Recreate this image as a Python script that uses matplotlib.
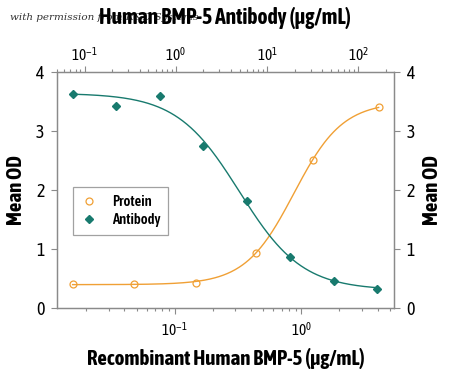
import numpy as np
import matplotlib
matplotlib.use('Agg')
import matplotlib.pyplot as plt
from matplotlib.lines import Line2D

FONT = ['Asap Condensed', 'DejaVu Sans']
plt.rcParams['font.family'] = FONT
plt.rcParams['mathtext.fontset'] = 'custom'
plt.rcParams['mathtext.rm'] = 'Asap Condensed'
plt.rcParams['mathtext.it'] = 'Asap Condensed'

# data
protein_conc = [0.0156, 0.048, 0.148, 0.44, 1.24, 4.08]      # ug/mL, bottom axis
protein_od = [0.41, 0.41, 0.43, 0.94, 2.51, 3.41]
antibody_conc = [0.074, 0.222, 0.667, 2.0, 6.0, 18.0, 54.0, 162.0]   # ug/mL, top axis
antibody_od = [3.63, 3.43, 3.60, 2.75, 1.81, 0.87, 0.46, 0.32]

ORANGE = '#f0a035'
TEAL = '#187a6e'
GRAY = '#8a8a8a'


def fit_4pl(x, y):
    # grid over ec50 / hill, bottom & top by linear least squares
    lx = np.log10(x)
    y = np.asarray(y)
    best = None
    for c in np.linspace(lx.min(), lx.max(), 160):
        for h in np.linspace(0.3, 4.0, 120):
            g = 1.0 / (1.0 + 10 ** (h * (c - lx)))
            A = np.column_stack([np.ones_like(g), g])
            coef = np.linalg.lstsq(A, y, rcond=None)[0]
            r = np.sum((A @ coef - y) ** 2)
            if best is None or r < best[0]:
                best = (r, c, h, coef)
    _, c, h, coef = best

    def f(xx):
        g = 1.0 / (1.0 + 10 ** (h * (c - np.log10(xx))))
        return coef[0] + coef[1] * g
    return f


fig = plt.figure(figsize=(4.5, 3.79), dpi=100)
ax = fig.add_axes([0.1267, 0.1873, 0.7489, 0.6227])
ax_top = ax.twiny()

# protein on bottom axis
f_p = fit_4pl(np.array(protein_conc), protein_od)
xs = np.logspace(np.log10(protein_conc[0]), np.log10(protein_conc[-1]), 300)
ax.plot(xs, f_p(xs), color=ORANGE, lw=1.0, zorder=3)
ax.plot(protein_conc, protein_od, 'o', mfc='none', mec=ORANGE, ms=5, mew=0.9,
        zorder=4)

# antibody on top axis
f_a = fit_4pl(np.array(antibody_conc), antibody_od)
xs = np.logspace(np.log10(antibody_conc[0]), np.log10(antibody_conc[-1]), 300)
ax_top.plot(xs, f_a(xs), color=TEAL, lw=1.0, zorder=3)
ax_top.plot(antibody_conc, antibody_od, 'D', color=TEAL, ms=4.5, zorder=4)

ax.set_xscale('log')
ax_top.set_xscale('log')
ax.set_xlim(0.01175, 5.4)
ax_top.set_xlim(0.0499, 246)
ax.set_ylim(0, 4)
ax.set_yticks([0, 1, 2, 3, 4])

for a in (ax, ax_top):
    for s in a.spines.values():
        s.set_color(GRAY)
        s.set_linewidth(0.9)
    a.tick_params(which='both', color=GRAY, width=0.8)
    a.tick_params(which='major', length=4)
    a.tick_params(which='minor', length=2.5)

ax.tick_params(axis='y', left=True, right=True, labelleft=True, labelright=True,
               labelsize=13, pad=5)
ax.tick_params(axis='x', labelsize=11, pad=5)
ax_top.tick_params(axis='x', labelsize=11, pad=2)

ax.set_ylabel('Mean OD', fontsize=15, fontweight='bold', labelpad=7)
ax.text(1.113, 0.5, 'Mean OD', transform=ax.transAxes, rotation=90,
        fontsize=15, fontweight='bold', ha='center', va='center')
ax.text(0.5, -0.212, 'Recombinant Human BMP-5 (\u03bcg/mL)', transform=ax.transAxes,
        fontsize=15, fontweight='bold', ha='center', va='center')

# legend
handles = [
    Line2D([], [], ls='none', marker='o', mfc='none', mec=ORANGE, ms=5, mew=0.9),
    Line2D([], [], ls='none', marker='D', color=TEAL, ms=4.5),
]
leg = ax.legend(handles, ['Protein', 'Antibody'], loc='upper left',
                bbox_to_anchor=(0.048, 0.514), borderaxespad=0, frameon=True,
                fancybox=False, edgecolor=GRAY, handlelength=1.0,
                handletextpad=1.1, borderpad=0.55, labelspacing=0.3,
                prop={'family': FONT, 'weight': 'semibold', 'size': 10.5})
leg.get_frame().set_linewidth(0.9)

fig.text(0.022, 0.953, 'with permission from R&D Systems', fontsize=7.5,
         family='DejaVu Serif', style='italic', color='#333333',
         ha='left', va='center')
fig.text(0.5, 0.953, 'Human BMP-5 Antibody (\u03bcg/mL)', fontsize=15.5,
         fontweight='bold', ha='center', va='center')

fig.savefig('out.png', dpi=100, facecolor='white')
